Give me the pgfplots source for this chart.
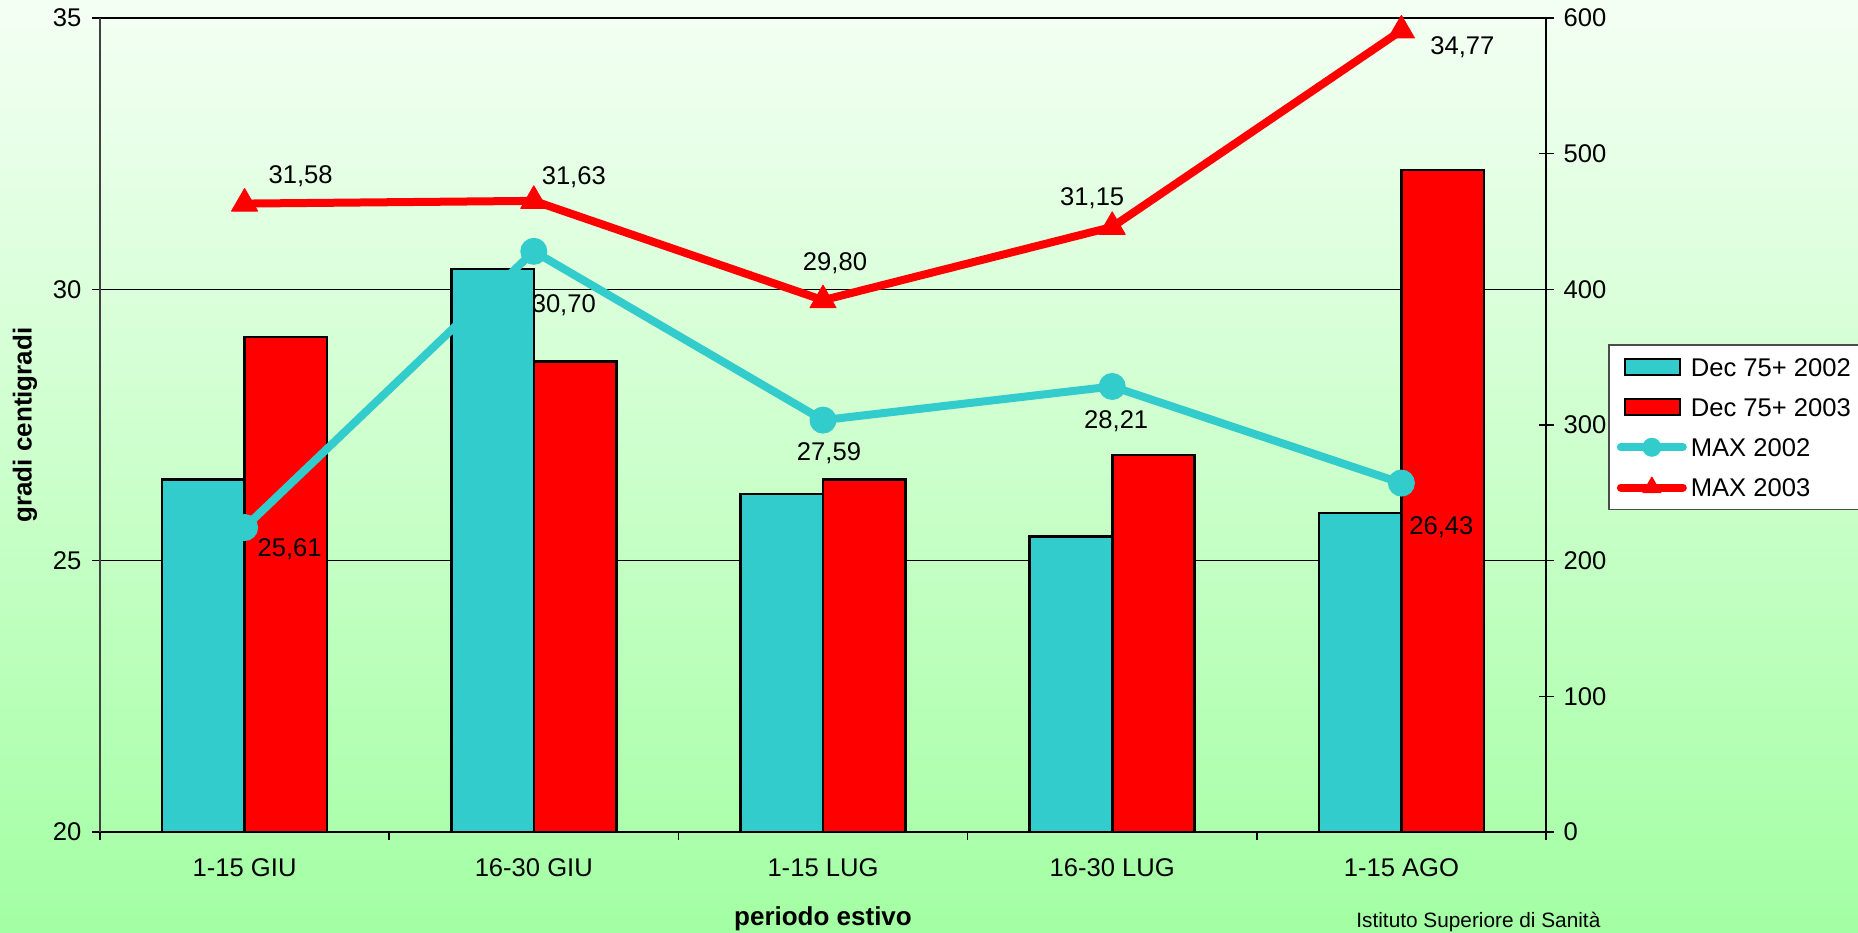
\documentclass[border=0pt]{standalone}
\usepackage{fontspec}
\setmainfont{Liberation Sans}
\usepackage{pgfplots}
\usepackage{pgfplotstable}
\pgfplotsset{compat=1.18}

\definecolor{cteal}{RGB}{51,204,204}
\definecolor{cred}{RGB}{255,0,0}
\definecolor{bgtop}{RGB}{244,255,244}
\definecolor{bgbot}{RGB}{163,255,163}

\pgfplotstableread{
x  dec02 dec03 max02 max03
1  260   365   25.61 31.58
2  415   347   30.70 31.63
3  249   260   27.59 29.80
4  218   278   28.21 31.15
5  235   488   26.43 34.77
}\estate

\newcommand{\lbl}{\fontsize{12.8}{15}\selectfont}

\pgfplotsset{
  myaxis/.style={
    at={(50pt,50pt)}, anchor=south west,
    scale only axis, width=723pt, height=407pt,
    xmin=0.5, xmax=5.5,
    tick label style={font=\lbl},
    /pgf/number format/assume math mode=true,
  },
  legline/.style={legend image code/.code={\draw[##1, mark size=#1, mark repeat=2, mark phase=2] plot coordinates {(0pt,0pt) (15.5pt,0pt) (31pt,0pt)};}},
  legbar/.style={legend image code/.code={\draw[fill=#1,draw=black,line width=1.3pt] (2pt,-4pt) rectangle (29.5pt,4pt);}},
}

\begin{document}
\begin{tikzpicture}
\shade[top color=bgtop, bottom color=bgbot] (0,0) rectangle (929pt,466pt);

% decessi 75+ (asse destro)
\begin{axis}[myaxis,
  ymin=0, ymax=600,
  axis x line=none, axis y line*=right,
  ytick={0,100,...,600},
  tick align=center, major tick length=7.5pt,
  y axis line style={black, line width=0.8pt},
  ytick style={black, line width=0.8pt},
  yticklabel style={xshift=1.5pt},
  extra y ticks={200,400,600}, extra y tick labels={},
  extra y tick style={grid=major, major tick length=0pt},
  major grid style={black, line width=0.6pt},
  ybar, bar width=0.285,
]
\addplot[fill=cteal, draw=black, line width=1.3pt, bar shift=-0.1425] table[x=x,y=dec02]{\estate};
\addplot[fill=cred, draw=black, line width=1.3pt, bar shift=0.1425] table[x=x,y=dec03]{\estate};
\end{axis}

% temperature massime (asse sinistro)
\begin{axis}[myaxis,
  ymin=20, ymax=35, ytick={20,25,30,35},
  axis x line*=bottom, axis y line*=left,
  tick align=outside, major tick length=4pt, minor tick length=4pt,
  xtick={1,...,5},
  xticklabels={1-15 GIU,16-30 GIU,1-15 LUG,16-30 LUG,1-15 AGO},
  minor xtick={0.5,1.5,...,5.5},
  major x tick style={draw=none},
  xticklabel style={yshift=-5.8pt},
  yticklabel style={xshift=-1.8pt},
  x axis line style={black, line width=0.8pt},
  y axis line style={black!75, line width=0.8pt},
  tick style={black, line width=0.8pt},
  xlabel={periodo estivo}, ylabel={gradi centigradi},
  label style={font=\fontsize{13}{15}\selectfont\bfseries},
  xlabel style={at={(axis description cs:0.5,0)}, anchor=base, yshift=-46.5pt},
  ylabel style={at={(axis description cs:-0.0519,0.5)}, anchor=center},
  clip=false,
  legend style={at={(1.0429,0.5995)}, anchor=north west, draw=black!70,
    line width=0.8pt, fill=white, inner xsep=4pt, inner ysep=1pt, font=\lbl,
    nodes={inner xsep=2pt, inner ysep=5.5pt, text height=9.1pt, text depth=0pt}},
  legend cell align=left,
]
\addlegendimage{legbar=cteal}
\addlegendentry{Dec 75+ 2002}
\addlegendimage{legbar=cred}
\addlegendentry{Dec 75+ 2003}

\addplot[cteal, line width=4pt, line cap=round, line join=round,
  mark=*, mark size=6.5pt, mark options={line width=0.5pt}, legline=4.5pt]
  table[x=x,y=max02]{\estate};
\addlegendentry{MAX 2002}
\addplot[cred, line width=4pt, line cap=round, line join=round,
  mark=triangle*, mark size=7.5pt, mark options={line width=0.5pt}, legline=5.2pt]
  table[x=x,y=max03]{\estate};
\addlegendentry{MAX 2003}

\node[font=\lbl, xshift=28pt, yshift=13.5pt] at (axis cs:1,31.58) {31,58};
\node[font=\lbl, xshift=20pt, yshift=12pt] at (axis cs:2,31.63) {31,63};
\node[font=\lbl, xshift=6pt, yshift=18.5pt] at (axis cs:3,29.80) {29,80};
\node[font=\lbl, xshift=-10pt, yshift=14.5pt] at (axis cs:4,31.15) {31,15};
\node[font=\lbl, xshift=30.5pt, yshift=-8.5pt] at (axis cs:5,34.77) {34,77};

\node[font=\lbl, xshift=22.5pt, yshift=-11pt] at (axis cs:1,25.61) {25,61};
\node[font=\lbl, xshift=15pt, yshift=-27pt] at (axis cs:2,30.70) {30,70};
\node[font=\lbl, xshift=3pt, yshift=-16.5pt] at (axis cs:3,27.59) {27,59};
\node[font=\lbl, xshift=2pt, yshift=-17.5pt] at (axis cs:4,28.21) {28,21};
\node[font=\lbl, xshift=20pt, yshift=-22pt] at (axis cs:5,26.43) {26,43};
\end{axis}

\node[anchor=base west, inner sep=0pt, font=\fontsize{10.4}{12}\selectfont] at (678pt,2.5pt) {Istituto Superiore di Sanità};

\pgfresetboundingbox
\path[use as bounding box] (0,0) rectangle (929pt,466pt);
\end{tikzpicture}
\end{document}
